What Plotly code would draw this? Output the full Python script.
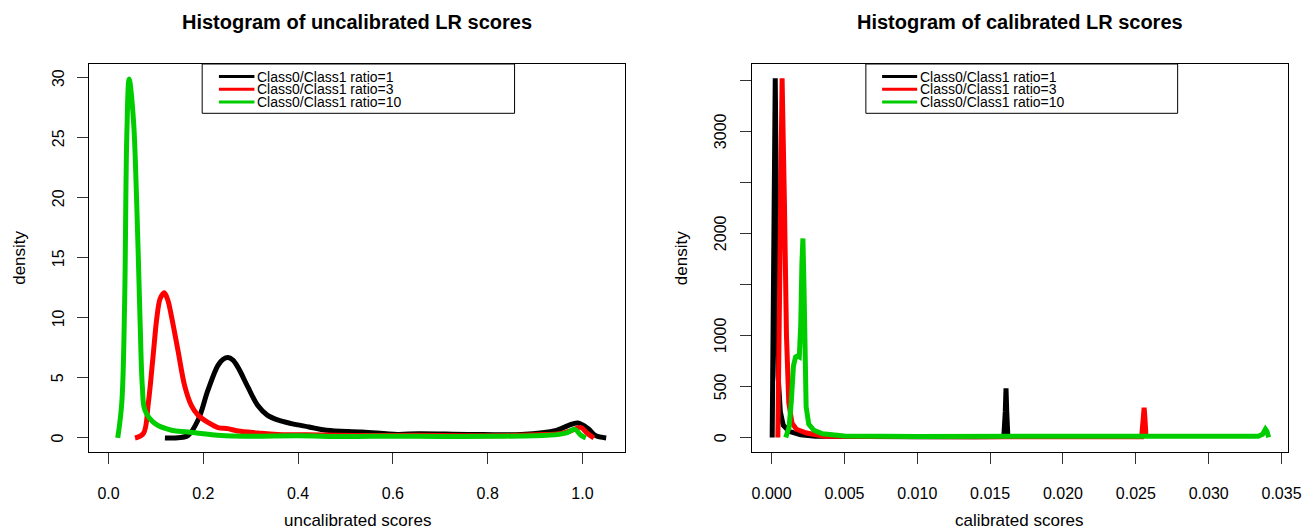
import plotly.graph_objects as go

W, H = 1316, 531

# ---------------- data: uncalibrated (left panel) ----------------
unc_r1_x = [0.119, 0.147, 0.168, 0.189, 0.21, 0.231, 0.242, 0.252, 0.262, 0.273, 0.294, 0.315, 0.335, 0.357,
            0.386, 0.423, 0.46, 0.535, 0.61, 0.654, 0.759, 0.871, 0.945, 0.971, 0.99, 1.012, 1.027, 1.05]
unc_r1_y = [0.0, 0.02, 0.22, 1.5, 4.0, 6.05, 6.55, 6.7, 6.5, 5.9, 4.25, 2.7, 1.9, 1.5,
            1.2, 0.92, 0.64, 0.5, 0.3, 0.36, 0.3, 0.3, 0.64, 1.05, 1.25, 0.78, 0.22, 0.0]

unc_r3_x = [0.056, 0.0736, 0.084, 0.0945, 0.102, 0.109, 0.1176, 0.125, 0.133, 0.147, 0.161, 0.175, 0.189,
            0.21, 0.231, 0.252, 0.273, 0.315, 0.357, 0.45, 0.55, 0.65, 0.75, 0.85, 0.92, 0.95, 0.975,
            0.996, 1.01, 1.024]
unc_r3_y = [0.0, 0.37, 2.9, 7.0, 10.0, 11.6, 12.1, 11.5, 10.1, 7.2, 4.3, 2.7, 1.9,
            1.3, 0.87, 0.78, 0.58, 0.42, 0.3, 0.25, 0.2, 0.22, 0.18, 0.2, 0.28, 0.35, 0.6,
            0.88, 0.4, 0.0]

unc_r10_x = [0.0195, 0.028, 0.034, 0.0386, 0.0436, 0.0526, 0.0596, 0.0666, 0.0715, 0.077, 0.098,
             0.133, 0.168, 0.238, 0.3, 0.4, 0.5, 0.6, 0.7, 0.8, 0.9, 0.95, 0.968, 0.984, 0.996, 1.007]
unc_r10_y = [0.0, 2.9, 11.2, 25.1, 29.9, 26.5, 19.5, 9.8, 4.25, 2.3, 1.2,
             0.64, 0.5, 0.2, 0.15, 0.18, 0.12, 0.15, 0.12, 0.15, 0.18, 0.3, 0.45, 0.72, 0.25, 0.0]

# ---------------- data: calibrated (right panel) ----------------
cal_r1_x = [0.00004, 0.00015, 0.00025, 0.00035, 0.00045, 0.0006, 0.0008, 0.0012, 0.002, 0.003,
            0.006, 0.010, 0.014, 0.01594, 0.01604, 0.01609, 0.01614, 0.01622]
cal_r1_y = [0, 1800, 3520, 2000, 600, 250, 120, 60, 25, 12,
            6, 6, 6, 8, 250, 480, 250, 0]

cal_r3_x = [0.00043, 0.00055, 0.00072, 0.00088, 0.00102, 0.00118, 0.0014, 0.0017, 0.0024, 0.0036,
            0.008, 0.014, 0.020, 0.0254, 0.02552, 0.02557, 0.02562, 0.0257]
cal_r3_y = [0, 1500, 3520, 2300, 1000, 340, 140, 80, 43, 12,
            6, 6, 6, 6, 200, 290, 200, 0]

cal_r10_x = [0.00097, 0.0012, 0.00135, 0.0015, 0.00165, 0.00178, 0.0019, 0.002, 0.00208, 0.00215,
             0.00222, 0.00229, 0.00237, 0.00255, 0.0029, 0.0035, 0.005, 0.010, 0.015, 0.020, 0.025,
             0.030, 0.0334, 0.0337, 0.0339, 0.0340, 0.03412]
cal_r10_y = [0, 100, 350, 700, 790, 800, 790, 1100, 1700, 1950,
             1500, 700, 300, 130, 70, 35, 15, 10, 10, 10, 10,
             10, 12, 30, 80, 60, 0]

series_names = ["Class0/Class1 ratio=1", "Class0/Class1 ratio=3", "Class0/Class1 ratio=10"]
series_colors = ["#000000", "#FF0000", "#00CD00"]

left_xticks = [0.0, 0.2, 0.4, 0.6, 0.8, 1.0]
left_xticklabels = ["0.0", "0.2", "0.4", "0.6", "0.8", "1.0"]
left_yticks = [0, 5, 10, 15, 20, 25, 30]
left_yticklabels = ["0", "5", "10", "15", "20", "25", "30"]
right_xticks = [0.0, 0.005, 0.010, 0.015, 0.020, 0.025, 0.030, 0.035]
right_xticklabels = ["0.000", "0.005", "0.010", "0.015", "0.020", "0.025", "0.030", "0.035"]
right_yticks = [0, 500, 1000, 1500, 2000, 2500, 3000, 3500]
right_yticklabels = ["0", "500", "1000", "", "2000", "", "3000", ""]

# ---------------- layout geometry (pixels) ----------------
def fx(p):
    return p / W

def fy(p):
    return 1 - p / H

L_BOX = (90, 631.7)
R_BOX = (759.3, 1301)
TOP, BOT = 64, 452

FONT = "Liberation Sans, Arial, Helvetica, sans-serif"

fig = go.Figure()

left_sets = [(unc_r1_x, unc_r1_y), (unc_r3_x, unc_r3_y), (unc_r10_x, unc_r10_y)]
right_sets = [(cal_r1_x, cal_r1_y), (cal_r3_x, cal_r3_y), (cal_r10_x, cal_r10_y)]

for (xs, ys), name, col in zip(left_sets, series_names, series_colors):
    fig.add_trace(go.Scatter(x=xs, y=ys, mode="lines", name=name, showlegend=False,
                             line=dict(color=col, width=5, shape="spline", smoothing=1.0),
                             xaxis="x", yaxis="y"))
for (xs, ys), name, col in zip(right_sets, series_names, series_colors):
    fig.add_trace(go.Scatter(x=xs, y=ys, mode="lines", name=name, showlegend=False,
                             line=dict(color=col, width=5),
                             xaxis="x2", yaxis="y2"))

axis_common = dict(showgrid=False, zeroline=False, showline=True, linecolor="#000000", linewidth=1,
                   mirror=True, ticks="outside", ticklen=11, tickcolor="#333333", tickwidth=1,
                   tickfont=dict(family=FONT, size=16, color="#000000"))

fig.update_layout(
    width=W, height=H, autosize=False,
    margin=dict(l=0, r=0, t=0, b=0),
    paper_bgcolor="white", plot_bgcolor="white",
    showlegend=False,
    xaxis=dict(domain=[fx(L_BOX[0]), fx(L_BOX[1])], range=[-0.0409, 1.0907],
               tickvals=left_xticks, ticktext=left_xticklabels, anchor="y",
               ticklabelstandoff=16, **axis_common),
    yaxis=dict(domain=[fy(BOT), fy(TOP)], range=[-1.167, 31.14],
               tickvals=left_yticks, anchor="x", showticklabels=False, **axis_common),
    xaxis2=dict(domain=[fx(R_BOX[0]), fx(R_BOX[1])], range=[-0.001359, 0.035456],
                tickvals=right_xticks, ticktext=right_xticklabels, anchor="y2",
                ticklabelstandoff=16, **axis_common),
    yaxis2=dict(domain=[fy(BOT), fy(TOP)], range=[-143, 3660],
                tickvals=right_yticks, anchor="x2", showticklabels=False, **axis_common),
)

ann = []
shapes = []

def text(x, y, s, size=14, bold=False, angle=0, xanchor="center"):
    ann.append(dict(x=fx(x), y=fy(y), xref="paper", yref="paper", text=f"<b>{s}</b>" if bold else s,
                    showarrow=False, textangle=angle, xanchor=xanchor, yanchor="middle",
                    font=dict(family=FONT, size=size, color="#000000")))

# y tick labels, rotated like R's default (placed on the axis scale)
for v, s in zip(left_yticks, left_yticklabels):
    if s:
        ann.append(dict(x=fx(59), y=v, xref="paper", yref="y", text=s, showarrow=False,
                        textangle=-90, xanchor="center", yanchor="middle",
                        font=dict(family=FONT, size=16, color="#000000")))
for v, s in zip(right_yticks, right_yticklabels):
    if s:
        ann.append(dict(x=fx(728), y=v, xref="paper", yref="y2", text=s, showarrow=False,
                        textangle=-90, xanchor="center", yanchor="middle",
                        font=dict(family=FONT, size=16, color="#000000")))

# titles
text((L_BOX[0] + L_BOX[1]) / 2, 22, "Histogram of uncalibrated LR scores", size=20, bold=True)
text((R_BOX[0] + R_BOX[1]) / 2, 22, "Histogram of calibrated LR scores", size=20, bold=True)
# axis titles
text((L_BOX[0] + L_BOX[1]) / 2, 520, "uncalibrated scores", size=17)
text((R_BOX[0] + R_BOX[1]) / 2, 520, "calibrated scores", size=17)
text(19, (TOP + BOT) / 2, "density", size=17, angle=-90)
text(688, (TOP + BOT) / 2, "density", size=17, angle=-90)

# legends (drawn in pixel positions)
def legend(box_l, box_r, line_l, line_r):
    shapes.append(dict(type="rect", xref="paper", yref="paper", x0=fx(box_l), x1=fx(box_r),
                       y0=fy(113.3), y1=fy(TOP), line=dict(color="#000000", width=1),
                       fillcolor="white", layer="above"))
    for i, (name, col) in enumerate(zip(series_names, series_colors)):
        yy = 76.5 + i * 12.8
        shapes.append(dict(type="line", xref="paper", yref="paper", x0=fx(line_l), x1=fx(line_r),
                           y0=fy(yy), y1=fy(yy), line=dict(color=col, width=3), layer="above"))
        text(line_r + 1, yy, name, size=14, xanchor="left")

legend(204.2, 519.7, 221.1, 257)
legend(874.5, 1189.4, 890.9, 926.3)

fig.update_layout(annotations=ann, shapes=shapes)
fig.write_html("out.html", config={"displayModeBar": False},
               post_script="document.body.style.margin='0';document.body.style.overflow='hidden';")
